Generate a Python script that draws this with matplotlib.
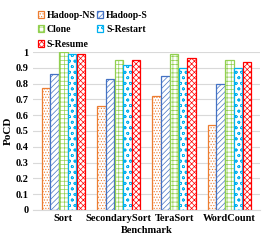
import matplotlib
matplotlib.use("Agg")
import matplotlib.pyplot as plt
import numpy as np

categories = ["Sort", "SecondarySort", "TeraSort", "WordCount"]
series_names = ["Hadoop-NS", "Hadoop-S", "Clone", "S-Restart", "S-Resume"]
hadoop_ns = [0.77, 0.66, 0.72, 0.54]
hadoop_s = [0.86, 0.83, 0.85, 0.80]
clone = [1.00, 0.95, 0.99, 0.95]
s_restart = [0.99, 0.92, 0.90, 0.90]
s_resume = [0.99, 0.95, 0.96, 0.94]
yticks = [0, 0.1, 0.2, 0.3, 0.4, 0.5, 0.6, 0.7, 0.8, 0.9, 1]

series = [hadoop_ns, hadoop_s, clone, s_restart, s_resume]
colors = ["#ED7D31", "#4472C4", "#92D050", "#00B0F0", "#FF0000"]
hatches = ["......", "//////", "++++", "ooo", "xxxxxx"]

plt.rcParams['font.family'] = ['Liberation Serif', 'DejaVu Serif']
plt.rcParams['font.weight'] = 'bold'
plt.rcParams['hatch.linewidth'] = 0.5

fig = plt.figure(figsize=(2.66, 2.49), dpi=100)
ax = fig.add_axes([0.124, 0.157, 0.853, 0.634])

x = np.arange(len(categories))
w = 0.158
handles = []
for i, (vals, c, h, name) in enumerate(zip(series, colors, hatches, series_names)):
    plt.rcParams['hatch.color'] = c
    b = ax.bar(x + (i - 2) * w, vals, w * 0.97, facecolor="white", edgecolor=c,
               hatch=h, linewidth=0.9, label=name, zorder=3)
    handles.append(b)

ax.set_ylim(0, 1.0)
ax.set_xlim(-0.55, 3.55)
ax.set_yticks(yticks)
ax.set_yticklabels([f"{t:g}" for t in yticks], fontsize=7.5, fontweight='bold')
ax.set_xticks(x)
ax.set_xticklabels(categories, fontsize=7.5, fontweight='bold')
ax.tick_params(length=0, pad=3)
ax.yaxis.grid(True, color="#D9D9D9", linewidth=0.8, zorder=0)
ax.set_axisbelow(True)
for s in ["top", "right", "left"]:
    ax.spines[s].set_visible(False)
ax.spines["bottom"].set_color("#D9D9D9")
ax.spines["bottom"].set_zorder(4)
ax.set_ylabel("PoCD", fontsize=8, fontweight='bold', labelpad=2)
ax.set_xlabel("Benchmark", fontsize=7.5, fontweight='bold', labelpad=2)

order = [0, 2, 4, 1, 3]
leg = ax.legend([handles[k] for k in order], [series_names[k] for k in order],
                ncol=2, loc="lower left", bbox_to_anchor=(-0.005, 0.985),
                frameon=False, handlelength=0.6, handleheight=0.7,
                handletextpad=0.3, columnspacing=0.2, labelspacing=0.55,
                borderpad=0.1, prop={'weight': 'bold', 'size': 7.0})

fig.savefig("out.png", dpi=100)
